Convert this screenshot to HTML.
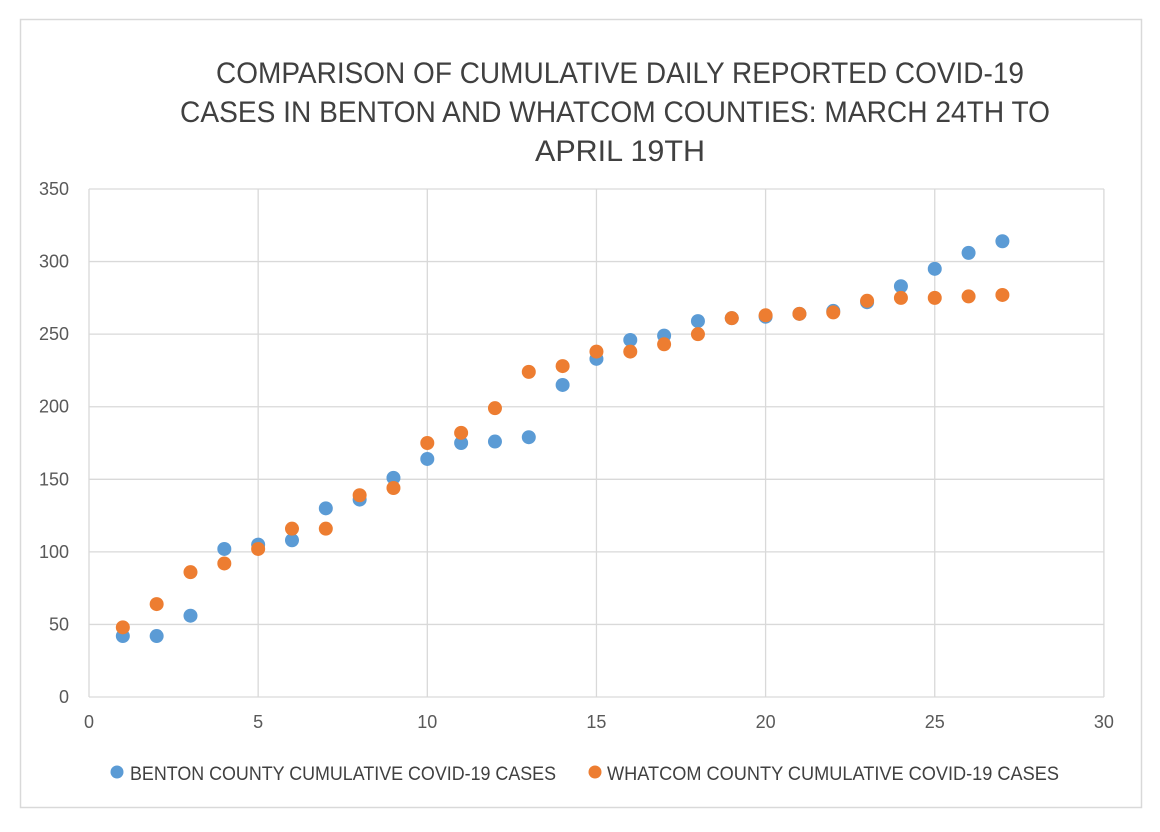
<!DOCTYPE html>
<html><head><style>body{margin:0;background:#fff}svg{display:block}</style></head><body>
<svg width="1160" height="832" xmlns="http://www.w3.org/2000/svg" font-family="Liberation Sans, sans-serif">
<rect x="20.5" y="19.5" width="1121" height="788" fill="#fff" stroke="#d9d9d9" stroke-width="1.5"/>
<g fill="#404040" font-size="30" text-anchor="middle">
<text x="620" y="83" textLength="808" lengthAdjust="spacingAndGlyphs">COMPARISON OF CUMULATIVE DAILY REPORTED COVID-19</text>
<text x="615" y="122" textLength="870" lengthAdjust="spacingAndGlyphs">CASES IN BENTON AND WHATCOM COUNTIES: MARCH 24TH TO</text>
<text x="620" y="161" textLength="170" lengthAdjust="spacingAndGlyphs">APRIL 19TH</text>
</g>
<g stroke="#d9d9d9" stroke-width="1.3" id="grid"></g>
<g fill="#595959" font-size="18" id="ticks"></g>
<g id="pts"></g>
<circle cx="117" cy="772" r="6.5" fill="#5B9BD5"/>
<text x="130" y="780" font-size="19" fill="#404040" textLength="426" lengthAdjust="spacingAndGlyphs">BENTON COUNTY CUMULATIVE COVID-19 CASES</text>
<circle cx="595" cy="772" r="6.5" fill="#ED7D31"/>
<text x="607" y="780" font-size="19" fill="#404040" textLength="452" lengthAdjust="spacingAndGlyphs">WHATCOM COUNTY CUMULATIVE COVID-19 CASES</text>
<script>
var ns="http://www.w3.org/2000/svg";
function X(v){return 89+v*33.83}function Y(v){return 697-v*1.4514}
function el(p,t,a,txt){var e=document.createElementNS(ns,t);for(var k in a)e.setAttribute(k,a[k]);if(txt!=null)e.textContent=txt;document.getElementById(p).appendChild(e)}
for(var i=0;i<=7;i++){var y=Y(i*50);el('grid','line',{x1:89,x2:1104,y1:y,y2:y});el('ticks','text',{x:69,y:y+6,'text-anchor':'end'},i*50)}
for(var i=0;i<=6;i++){var x=X(i*5);el('grid','line',{x1:x,x2:x,y1:189,y2:697});el('ticks','text',{x:x,y:728,'text-anchor':'middle'},i*5)}
var b=[42,42,56,102,105,108,130,136,151,164,175,176,179,215,233,246,249,259,261,262,264,266,272,283,295,306,314];
var w=[48,64,86,92,102,116,116,139,144,175,182,199,224,228,238,238,243,250,261,263,264,265,273,275,275,276,277];
b.forEach(function(v,i){el('pts','circle',{cx:X(i+1),cy:Y(v),r:7,fill:'#5B9BD5'})});
w.forEach(function(v,i){el('pts','circle',{cx:X(i+1),cy:Y(v),r:7,fill:'#ED7D31'})});
</script>
</svg>
</body></html>
